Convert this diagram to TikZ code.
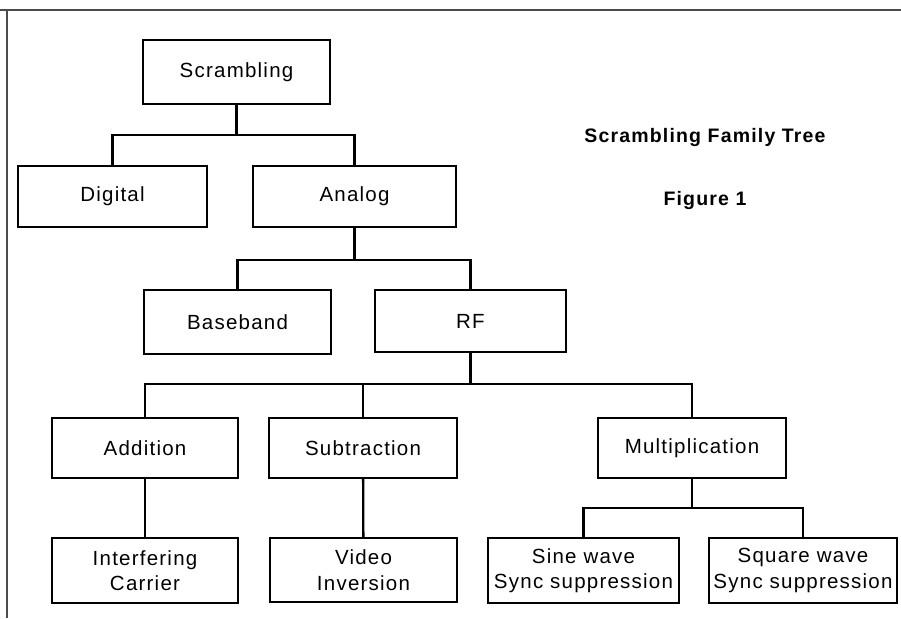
\documentclass[tikz,border=0pt]{standalone}
\usepackage{fontspec}
\setmainfont{Liberation Sans}[LetterSpace=6]
\begin{document}
\begin{tikzpicture}[x=1pt,y=-1pt,
  box/.style={draw,line width=2.1pt,minimum width=#1,inner sep=0pt,align=center,
    font=\fontsize{20.5}{25.5}\selectfont},
  box/.default=188pt,
  wire/.style={line width=2.3pt},
  frameline/.style={line width=1.3pt,gray!60!black}]
\useasboundingbox (0,0) rectangle (901,618);
% page frame
\draw[frameline] (0,10) -- (901,10);
\draw[frameline] (7,10) -- (7,618);
% title
\node (title) at (705,137) {\fontsize{19.5}{23}\selectfont\bfseries Scrambling Family Tree};
\node (fig) at (705,200) {\fontsize{19.5}{23}\selectfont\bfseries Figure 1};
% boxes
\node[box=187pt,minimum height=64pt] (scr) at (236.5,72) {Scrambling};
\node[box=189pt,minimum height=61pt] (dig) at (112.5,196.5) {Digital};
\node[box=203pt,minimum height=61pt] (ana) at (354.5,196.5) {Analog};
\node[box=187pt,minimum height=64pt] (base) at (237.5,322) {Baseband};
\node[box=191pt,minimum height=62pt] (rf) at (470.5,321) {RF};
\node[box=186pt,minimum height=60pt] (add) at (145,448) {Addition};
\node[box=188pt,minimum height=60pt] (sub) at (363,448) {Subtraction};
\node[box=188pt,minimum height=60pt] (mul) at (692,448) {Multiplication};
\node[box=186pt,minimum height=65pt] (intf) at (145,570.5) {Interfering\\Carrier};
\node[box=187pt,minimum height=64pt] (vid) at (363.5,570) {Video\\Inversion};
\node[box=191pt,minimum height=65pt] (sine) at (583.5,570.5) {Sine wave\\Sync suppression};
\node[box=188pt,minimum height=65pt] (sq) at (803,570.5) {Square wave\\Sync suppression};
% buses
\coordinate (b1) at (0,135);
\coordinate (b2) at (0,260);
\coordinate (b3) at (0,384);
\coordinate (b4) at (0,508);
\draw[wire] (scr.south) -- (scr.south |- b1);
\draw[wire] (dig.north) -- (dig.north |- b1) -- (ana.north |- b1) -- (ana.north);
\draw[wire] (ana.south) -- (ana.south |- b2);
\draw[wire] (base.north) -- (base.north |- b2) -- (rf.north |- b2) -- (rf.north);
\draw[wire] (rf.south) -- (rf.south |- b3);
\draw[wire] (add.north) -- (add.north |- b3) -- (mul.north |- b3) -- (mul.north);
\draw[wire] (sub.north) -- (sub.north |- b3);
\draw[wire] (add) -- (intf);
\draw[wire] (sub) -- (vid);
\draw[wire] (mul.south) -- (mul.south |- b4);
\draw[wire] (sine.north) -- (sine.north |- b4) -- (sq.north |- b4) -- (sq.north);
\end{tikzpicture}
\end{document}
